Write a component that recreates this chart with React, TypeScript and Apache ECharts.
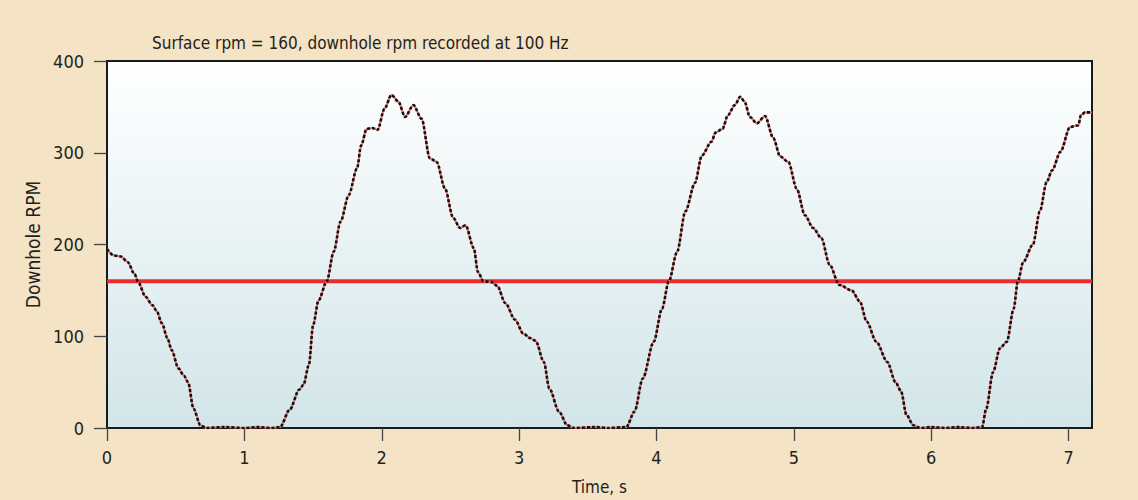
import React, { useEffect, useRef } from "react";
import * as echarts from "echarts";

const TITLE = "Surface rpm = 160, downhole rpm recorded at 100 Hz";
const X_NAME = "Time, s";
const Y_NAME = "Downhole RPM";
const SURFACE_RPM = 160;
const X_MIN = 0;
const X_MAX = 7.17;
const Y_TICKS = [0, 100, 200, 300, 400];
const X_TICKS = [0, 1, 2, 3, 4, 5, 6, 7];

const TIME_S = [
  0.0, 0.05, 0.1, 0.15, 0.2, 0.23, 0.28, 0.33, 0.36, 0.4, 0.44, 0.47, 0.52, 0.56, 0.59, 0.63, 0.68, 0.72, 0.85, 1.0,
  1.1, 1.2, 1.26, 1.33, 1.4, 1.43, 1.47, 1.5, 1.54, 1.6, 1.65, 1.7, 1.76, 1.82, 1.85, 1.89, 1.93, 1.97, 2.02, 2.07,
  2.12, 2.17, 2.23, 2.29, 2.35, 2.4, 2.46, 2.52, 2.57, 2.61, 2.67, 2.7, 2.74, 2.8, 2.84, 2.9, 2.97, 3.03, 3.08, 3.12,
  3.18, 3.22, 3.29, 3.35, 3.4, 3.55, 3.65, 3.78, 3.84, 3.9, 3.98, 4.04, 4.09, 4.15, 4.21, 4.28, 4.33, 4.4, 4.43, 4.48,
  4.52, 4.57, 4.61, 4.64, 4.68, 4.73, 4.79, 4.85, 4.9, 4.96, 5.02, 5.08, 5.14, 5.2, 5.26, 5.33, 5.42, 5.48, 5.53, 5.6,
  5.68, 5.74, 5.78, 5.82, 5.87, 5.92, 6.0, 6.1, 6.2, 6.3, 6.37, 6.4, 6.45, 6.5, 6.55, 6.6, 6.63, 6.67, 6.74, 6.79,
  6.84, 6.88, 6.94, 7.01, 7.07, 7.09, 7.12, 7.17,
];

const DOWNHOLE_RPM = [
  195, 188, 187, 181, 168, 158, 143, 134, 128, 114, 98, 85, 65, 57, 50, 21, 3, 0, 1, 0,
  1, 0, 1, 20, 42, 47, 69, 112, 139, 160, 192, 225, 254, 283, 308, 326, 327, 325, 348, 363,
  356, 339, 352, 337, 294, 290, 261, 229, 218, 221, 196, 170, 160, 159, 155, 136, 118, 103, 98, 95,
  72, 43, 18, 3, 0, 1, 0, 1, 18, 54, 94, 130, 160, 192, 236, 267, 297, 312, 322, 326,
  341, 352, 361, 356, 339, 332, 340, 316, 296, 290, 261, 232, 218, 207, 178, 156, 150, 138, 116, 94,
  72, 50, 40, 14, 3, 0, 1, 0, 1, 0, 1, 21, 61, 87, 94, 130, 160, 181, 200, 236,
  268, 281, 301, 328, 330, 341, 344, 344,
];

const FONT = "'Liberation Sans Narrow', 'DejaVu Sans Condensed', 'Roboto Condensed', 'Liberation Sans', sans-serif";
const TEXT_COLOR = "#231F20";

export default function App() {
  const ref = useRef<HTMLDivElement>(null);

  useEffect(() => {
    if (!ref.current) return;
    const chart = echarts.init(ref.current, undefined, { renderer: "svg" });
    const curve = TIME_S.map((t, i) => [t, DOWNHOLE_RPM[i]]);
    const surface = [
      [X_MIN, SURFACE_RPM],
      [X_MAX, SURFACE_RPM],
    ];
    chart.setOption({
      animation: false,
      backgroundColor: "#F4E3C4",
      title: {
        text: TITLE,
        left: 147,
        top: 29,
        textStyle: { fontFamily: FONT, fontSize: 17, fontWeight: "normal", color: TEXT_COLOR },
      },
      grid: {
        left: 107,
        top: 61,
        right: 46,
        bottom: 72,
        show: true,
        borderColor: "#1a1a1a",
        borderWidth: 2,
        backgroundColor: new echarts.graphic.LinearGradient(0, 0, 0, 1, [
          { offset: 0, color: "#FFFFFF" },
          { offset: 1, color: "#D2E5E8" },
        ]),
      },
      xAxis: {
        type: "value",
        min: X_MIN,
        max: X_MAX,
        interval: 1,
        name: X_NAME,
        nameLocation: "middle",
        nameGap: 50,
        nameTextStyle: { fontFamily: FONT, fontSize: 17, color: TEXT_COLOR },
        axisLine: { show: true, lineStyle: { color: "#1a1a1a", width: 2 } },
        axisTick: { show: true, length: 13, customValues: X_TICKS, lineStyle: { color: "#444", width: 1.3 } },
        axisLabel: {
          fontFamily: FONT,
          fontSize: 18,
          color: TEXT_COLOR,
          margin: 20,
          customValues: X_TICKS,
          formatter: (v: number) => String(v),
        },
        splitLine: { show: false },
      },
      yAxis: {
        type: "value",
        min: Y_TICKS[0],
        max: Y_TICKS[Y_TICKS.length - 1],
        interval: 100,
        name: Y_NAME,
        nameLocation: "middle",
        nameGap: 56,
        nameTextStyle: { fontFamily: FONT, fontSize: 19, color: TEXT_COLOR },
        axisLine: { show: true, lineStyle: { color: "#1a1a1a", width: 2 } },
        axisTick: { show: true, length: 13, lineStyle: { color: "#444", width: 1.3 } },
        axisLabel: { fontFamily: FONT, fontSize: 18, color: TEXT_COLOR, margin: 23 },
        splitLine: { show: false },
      },
      series: [
        {
          type: "line",
          data: surface,
          symbol: "none",
          lineStyle: { color: "#EE2A2E", width: 4 },
          z: 2,
        },
        {
          type: "line",
          data: curve,
          symbol: "none",
          smooth: 0.3,
          smoothMonotone: "x",
          lineStyle: { color: "#F06A6A", width: 2 },
          z: 3,
        },
        {
          type: "line",
          data: curve,
          symbol: "none",
          smooth: 0.3,
          smoothMonotone: "x",
          lineStyle: { color: "#111111", width: 2.6, type: [3, 2] },
          z: 4,
        },
      ],
    });
    return () => chart.dispose();
  }, []);

  return (
    <div
      ref={ref}
      style={{ position: "fixed", left: 0, top: 0, width: 1138, height: 500 }}
    />
  );
}
